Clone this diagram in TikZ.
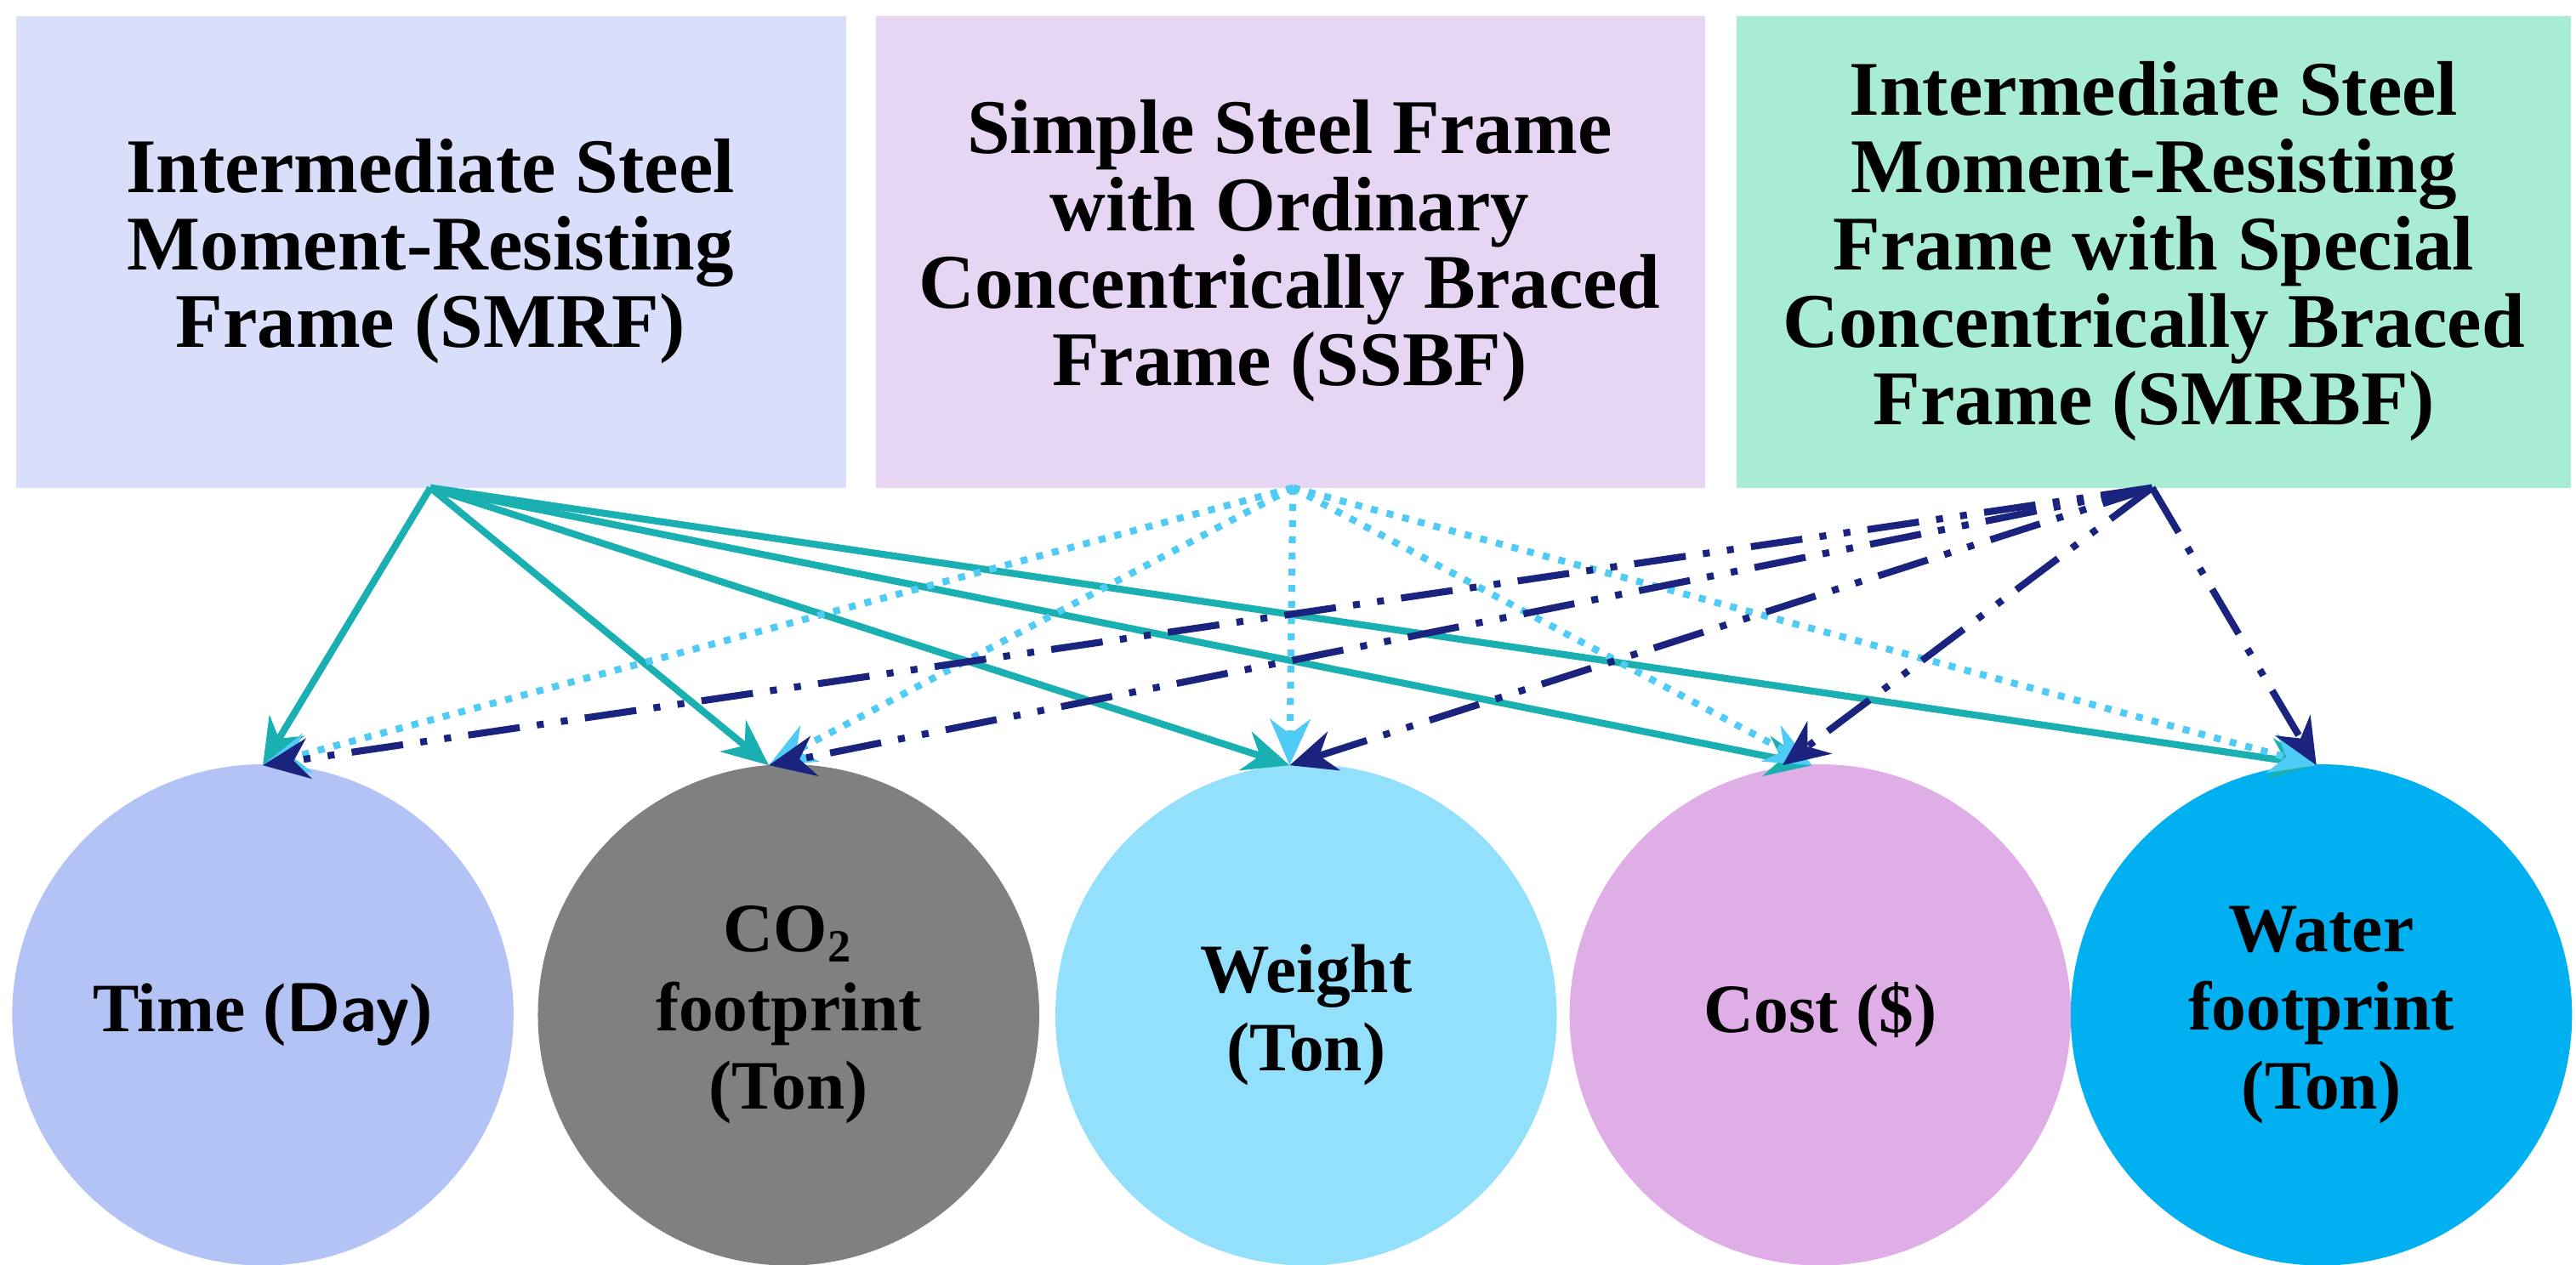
\documentclass[tikz,border=0pt]{standalone}
\usepackage{fontspec}
\setmainfont{Liberation Serif}
\usetikzlibrary{arrows.meta}
\definecolor{b1}{HTML}{D9DFFA}
\definecolor{b2}{HTML}{E6D5F3}
\definecolor{b3}{HTML}{A8ECD4}
\definecolor{c1}{HTML}{B4C3F5}
\definecolor{c2}{HTML}{808080}
\definecolor{c3}{HTML}{93E0FD}
\definecolor{c4}{HTML}{E0AEE6}
\definecolor{c5}{HTML}{00B0F0}
\definecolor{teal}{HTML}{1AAFB0}
\definecolor{lb}{HTML}{4FCBF5}
\definecolor{navy}{HTML}{1A237E}
\begin{document}
\begin{tikzpicture}[x=0.01cm,y=-0.01cm,
 box/.style={inner sep=0,align=center,font=\fontsize{13.4}{13.4}\selectfont\bfseries},
 circ/.style={circle,minimum size=3.05cm,inner sep=0,align=center,font=\fontsize{12}{13.6}\selectfont\bfseries},
 s1/.style={teal,line width=1.2pt,-{Stealth[length=8pt,width=7pt]}},
 s2/.style={lb,line width=1.2pt,dash pattern=on 1.2pt off 1.6pt,-{Stealth[length=8pt,width=7pt]}},
 s3/.style={navy,line width=1.2pt,dash pattern=on 9pt off 3pt on 1.2pt off 3pt on 1.2pt off 3pt,-{Stealth[length=8pt,width=7pt]}}]
\useasboundingbox (0,0) rectangle (1568,770);
\fill[b1] (10,10) rectangle (515,297);
\fill[b2] (533,10) rectangle (1038,297);
\fill[b3] (1057,10) rectangle (1565,297);
\node[box] (A) at (262,153) {Intermediate Steel\\Moment-Resisting\\Frame (SMRF)};
\node[box] (B) at (785,153) {Simple Steel Frame\\with Ordinary\\Concentrically Braced\\Frame (SSBF)};
\node[box] (C) at (1311,153) {Intermediate Steel\\Moment-Resisting\\Frame with Special\\Concentrically Braced\\Frame (SMRBF)};
\coordinate (a) at (262,297);
\coordinate (b) at (787,297);
\coordinate (c) at (1310,297);
\node[circ,fill=c1] (T) at (160,618) {Time (\textsf{Day})};
\node[circ,fill=c2] (O) at (480,618) {CO\textsubscript{2}\\footprint\\(Ton)};
\node[circ,fill=c3] (W) at (795,618) {Weight\\(Ton)};
\node[circ,fill=c4] (K) at (1108,618) {Cost (\$)};
\node[circ,fill=c5] (F) at (1413,618) {Water\\footprint\\(Ton)};
\coordinate (t) at (160,466); \coordinate (o) at (468,466); \coordinate (w) at (785,466);
\coordinate (k) at (1103,466); \coordinate (f) at (1410,466);
\foreach \p in {t,o,w,k,f} \draw[s1] (a) -- (\p);
\foreach \p in {t,o,w,k,f} \draw[s2] (b) -- (\p);
\foreach \p in {t,o,w,f} \draw[s3] (c) -- (\p);
\draw[s3] (c) -- (1085,466);
\end{tikzpicture}
\end{document}
